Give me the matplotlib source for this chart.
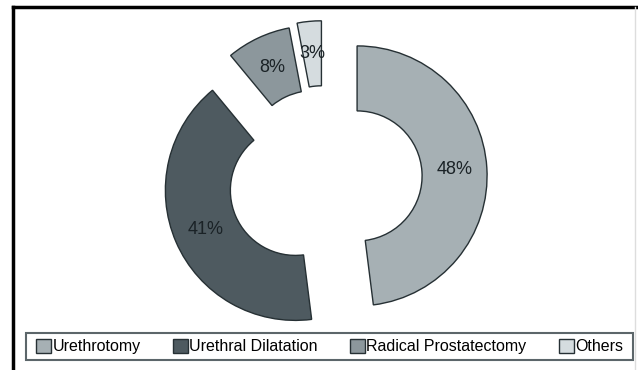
import numpy as np
import matplotlib
matplotlib.use("Agg")
import matplotlib.pyplot as plt
from matplotlib.patches import Rectangle

plt.rcParams['font.family'] = ['Liberation Sans', 'DejaVu Sans']

# data
labels = ['Urethrotomy', 'Urethral Dilatation', 'Radical Prostatectomy', 'Others']
values = [48, 41, 8, 3]
colors = ['#a6b0b4', '#4e5a60', '#8c979c', '#d5dcdf']

W, H = 638, 370
fig = plt.figure(figsize=(W / 100, H / 100), dpi=100)

# outer frame (left + top black, right faint)
fig.add_artist(plt.Line2D([13 / W, 13 / W], [0, 1 - 7 / H], color='black', lw=2.5))
fig.add_artist(plt.Line2D([13 / W, 1], [1 - 7 / H, 1 - 7 / H], color='black', lw=2.5))
fig.add_artist(plt.Line2D([635 / W, 635 / W], [0, 1 - 7 / H], color='#dddddd', lw=1))

ax = fig.add_axes([0, 0, 1, 1])
wedges, texts, autotexts = ax.pie(
    values, colors=colors, startangle=90, counterclock=False,
    explode=[0.255, 0.24, 0.19, 0.21], radius=1, pctdistance=0.75,
    autopct='%1.0f%%',
    wedgeprops=dict(width=0.5, edgecolor='#263034', linewidth=1.0),
    textprops=dict(fontsize=13, color='#1a2226'))

# 130 px per unit, ring centre at (324, 178) px from top-left
s = 130.0
cx, cy = 324, 178
ax.set_aspect('auto')
ax.set_xlim(-cx / s, (W - cx) / s)
ax.set_ylim(-(H - cy) / s, cy / s)
ax.axis('off')

# legend box
fig.add_artist(Rectangle((26 / W, 1 - 360 / H), (633 - 26) / W, 27 / H,
                         transform=fig.transFigure, fill=False,
                         edgecolor='#5c666a', lw=1.5))
fig.legend(wedges, labels, loc='center',
           bbox_to_anchor=(329.5 / W, 1 - 346.5 / H),
           ncol=4, frameon=False, fontsize=11.5,
           handlelength=0.95, handleheight=0.95, handletextpad=0.1,
           columnspacing=2.0, borderpad=0.2)

fig.savefig('out.png', dpi=100)
